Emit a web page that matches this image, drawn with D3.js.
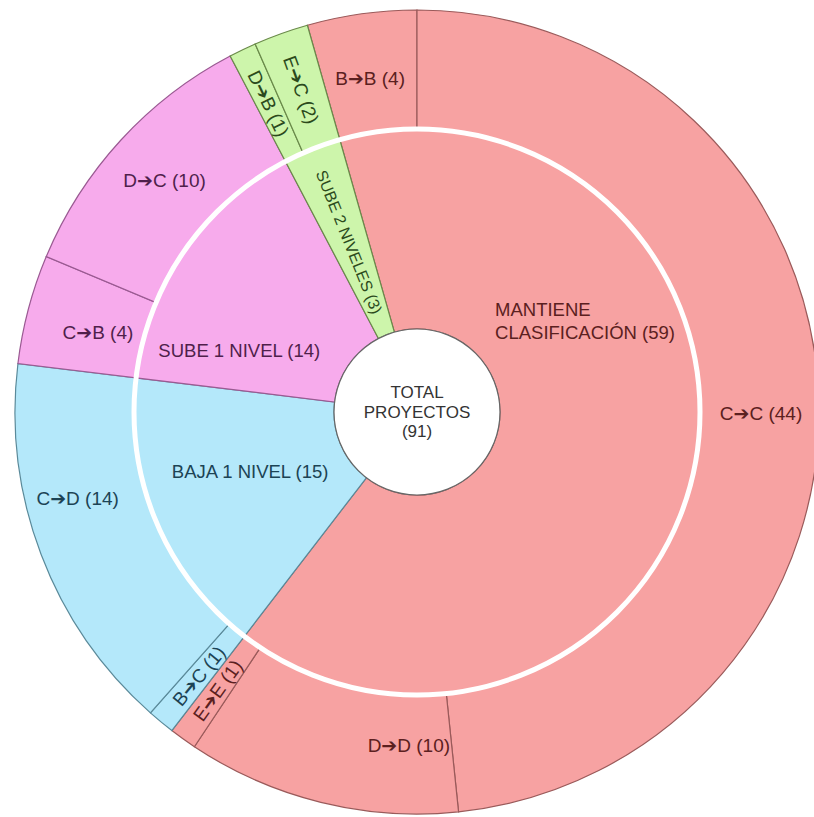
<!DOCTYPE html>
<html>
<head>
<meta charset="utf-8">
<script src="https://cdn.jsdelivr.net/npm/d3@7"></script>
<style>
  html, body { margin: 0; padding: 0; background: #ffffff; }
  svg { display: block; }
  text { font-family: "Liberation Sans", Arial, "DejaVu Sans", sans-serif; }
</style>
</head>
<body>
<svg id="chart" width="814" height="817"></svg>
<script>
// Inner ring: change in classification
const groups = ["MANTIENE CLASIFICACIÓN", "BAJA 1 NIVEL", "SUBE 1 NIVEL", "SUBE 2 NIVELES"];
const groupColors = ["#f7a2a2", "#b4e8fa", "#f7abec", "#cdf5ab"];
const groupStroke = ["#9a5a5a", "#5a8a9a", "#9a5a92", "#6a8a4a"];
const groupText = ["#5b2020", "#1c4354", "#4f1f4b", "#2b4a1c"];

// Outer ring: transition between classifications
const transitions = ["B➔B", "C➔C", "D➔D", "E➔E", "B➔C", "C➔D", "C➔B", "D➔C", "D➔B", "E➔C"];
const transitionGroup = [0, 0, 0, 0, 1, 1, 2, 2, 3, 3];
const counts = [4, 44, 10, 1, 1, 14, 4, 10, 1, 2];

const centerLines = ["TOTAL", "PROYECTOS"];

// Label placement (degrees clockwise from twelve o'clock, radius in px)
const labelAt = {
  "MANTIENE CLASIFICACIÓN": { a: 61.6, r: 191, align: "start" },
  "SUBE 1 NIVEL": { a: 289, r: 188 },
  "BAJA 1 NIVEL": { a: 250.5, r: 177 },
  "C➔C": { a: 90.3, r: 344 },
  "D➔D": { a: 181.4, r: 333 },
  "C➔D": { a: 255.8, r: 350 },
  "C➔B": { a: 284.1, r: 329 },
  "B➔B": { a: 352, r: 337 }
};

const svg = d3.select("#chart");
const cx = 417, cy = 412;
const rCenter = 83, rMid = 283, rOuter = 402;
const g = svg.append("g").attr("transform", `translate(${cx},${cy})`);

// Build hierarchy: groups -> transitions
const root = d3.hierarchy({
  name: "TOTAL PROYECTOS",
  children: groups.map((name, gi) => ({
    name, gi,
    children: transitions
      .map((t, i) => ({ name: t, gi: transitionGroup[i], value: counts[i] }))
      .filter(d => d.gi === gi)
  }))
}).sum(d => d.children ? 0 : d.value);

const total = root.value;
d3.partition().size([2 * Math.PI, 1])(root);

// rotate so that C➔C starts at twelve o'clock
const offset = -2 * Math.PI * counts[0] / total;
const ang = d3.scaleLinear().domain([0, 2 * Math.PI]).range([offset, offset + 2 * Math.PI]);

const arcInner = d3.arc()
  .startAngle(d => ang(d.x0)).endAngle(d => ang(d.x1))
  .innerRadius(rCenter).outerRadius(rMid);
const arcOuter = d3.arc()
  .startAngle(d => ang(d.x0)).endAngle(d => ang(d.x1))
  .innerRadius(rMid).outerRadius(rOuter);

const level1 = root.children;
const level2 = root.leaves();

g.selectAll("path.outer").data(level2).join("path")
  .attr("class", "outer")
  .attr("d", arcOuter)
  .attr("fill", d => groupColors[d.data.gi])
  .attr("stroke", d => groupStroke[d.data.gi])
  .attr("stroke-width", 1.2);

g.selectAll("path.inner").data(level1).join("path")
  .attr("class", "inner")
  .attr("d", arcInner)
  .attr("fill", d => groupColors[d.data.gi])
  .attr("stroke", d => groupStroke[d.data.gi])
  .attr("stroke-width", 1.2);

// white separator between rings
g.append("circle").attr("r", rMid).attr("fill", "none")
  .attr("stroke", "#ffffff").attr("stroke-width", 5);

// centre disc
g.append("circle").attr("r", rCenter).attr("fill", "#ffffff")
  .attr("stroke", "#666666").attr("stroke-width", 1.2);

function polar(aDeg, r) {
  const a = aDeg * Math.PI / 180;
  return [r * Math.sin(a), -r * Math.cos(a)];
}
const deg = rad => rad * 180 / Math.PI;

function placeLabel(d, r0, r1, lines, size) {
  const a0 = deg(ang(d.x0)), a1 = deg(ang(d.x1));
  const span = a1 - a0;
  const key = d.data.name;
  const place = labelAt[key] || {};
  const a = place.a !== undefined ? place.a : (a0 + a1) / 2;
  const r = place.r !== undefined ? place.r : (r0 + r1) / 2;
  const [x, y] = polar(a, r);
  const radial = span < 12;
  const left = place.align === "start";
  const t = g.append("text")
    .attr("text-anchor", left ? "start" : "middle")
    .attr("font-size", size)
    .attr("fill", groupText[d.data.gi])
    .attr("transform", radial ? `translate(${x},${y}) rotate(${a - 270})` : `translate(${x},${y})`);
  const lh = size * 1.22;
  const spans = lines.map((ln, i) =>
    t.append("tspan").attr("x", 0)
      .attr("y", (i - (lines.length - 1) / 2) * lh)
      .attr("dy", "0.35em")
      .text(ln));
  if (left) {
    // left-aligned block, centred as a whole on the anchor point
    const w = d3.max(spans, s => s.node().getComputedTextLength());
    spans.forEach(s => s.attr("x", -w / 2));
  }
}

level1.forEach(d => {
  const label = `${d.data.name} (${d.value})`;
  let lines = [label];
  if (d.data.name === "MANTIENE CLASIFICACIÓN") lines = ["MANTIENE", `CLASIFICACIÓN (${d.value})`];
  const size = d.data.name === "SUBE 2 NIVELES" ? 16 : 18.5;
  placeLabel(d, rCenter, rMid, lines, size);
});

level2.forEach(d => {
  placeLabel(d, rMid, rOuter, [`${d.data.name} (${d.value})`], 19);
});

// centre text
const ct = g.append("text").attr("text-anchor", "middle")
  .attr("font-size", 17).attr("fill", "#333333");
[...centerLines, `(${total})`].forEach((ln, i) => {
  ct.append("tspan").attr("x", 0).attr("y", (i - 1) * 19.5).attr("dy", "0.35em").text(ln);
});
</script>
</body>
</html>
